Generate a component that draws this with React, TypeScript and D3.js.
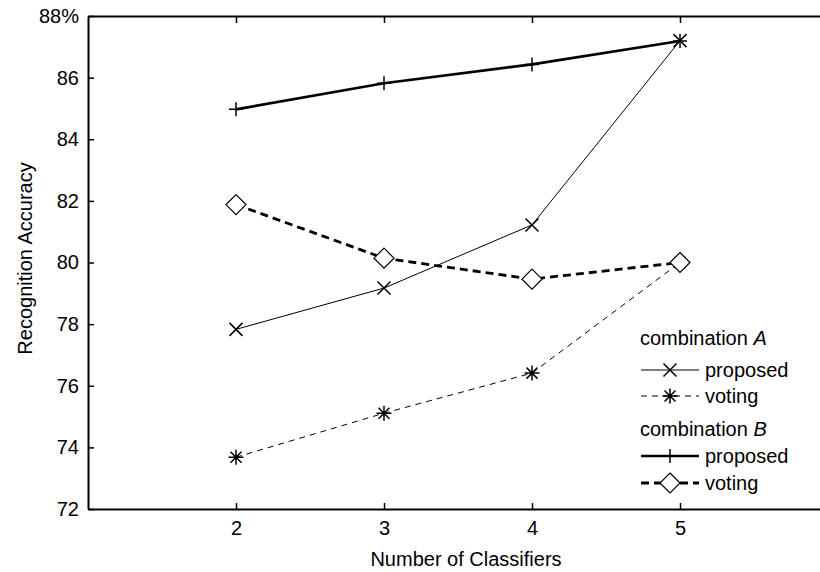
import React, { useEffect, useRef } from 'react';
import * as d3 from 'd3';

// classifiers on the x axis
const classifiers = [2, 3, 4, 5];
// recognition accuracy (%)
const aProposed = [77.83, 79.17, 81.22, 87.2];
const aVoting = [73.68, 75.11, 76.41, 80.0];
const bProposed = [84.97, 85.82, 86.43, 87.19];
const bVoting = [81.88, 80.14, 79.46, 80.0];
const yTicks = [72, 74, 76, 78, 80, 82, 84, 86, 88];

const FONT = '"Liberation Sans", Arial, Helvetica, sans-serif';

type Marker = 'x' | 'star' | 'plus' | 'diamond';

interface SeriesDef {
    values: number[];
    width: number;
    dash: string | null;
    marker: Marker;
    label: string;
}

const seriesDefs: SeriesDef[] = [
    { values: aProposed, width: 1, dash: null, marker: 'x', label: 'proposed' },
    { values: aVoting, width: 1, dash: '6,5', marker: 'star', label: 'voting' },
    { values: bProposed, width: 2.6, dash: null, marker: 'plus', label: 'proposed' },
    { values: bVoting, width: 2.8, dash: '8,5', marker: 'diamond', label: 'voting' },
];

function drawMarker(g: d3.Selection<SVGGElement, unknown, null, undefined>, kind: Marker, cx: number, cy: number) {
    const m = g.append('g').attr('transform', `translate(${cx},${cy})`)
        .attr('stroke', '#000').attr('stroke-width', 1.5).attr('fill', 'none');
    if (kind === 'x') {
        const s = 6.5;
        m.append('path').attr('d', `M${-s},${-s}L${s},${s}M${-s},${s}L${s},${-s}`);
    } else if (kind === 'plus') {
        const s = 7;
        m.append('path').attr('d', `M${-s},0L${s},0M0,${-s}L0,${s}`);
    } else if (kind === 'star') {
        const s = 7.5, d = 5.5;
        m.append('path').attr('d', `M${-s},0L${s},0M0,${-s}L0,${s}M${-d},${-d}L${d},${d}M${-d},${d}L${d},${-d}`);
    } else {
        const s = 10;
        m.append('path').attr('d', `M0,${-s}L${s},0L0,${s}L${-s},0Z`)
            .attr('fill', '#fff').attr('stroke-width', 1.2);
    }
}

const Chart: React.FC = () => {
    const svgRef = useRef<SVGSVGElement>(null);

    useEffect(() => {
        if (!svgRef.current) return;
        const svg = d3.select(svgRef.current);
        svg.selectAll('*').remove();

        const x = d3.scaleLinear().domain([1, 6]).range([88, 828]);
        const y = d3.scaleLinear().domain([72, 88]).range([509, 16]);

        // Axes (ticks point inward, like MATLAB)
        const styleAxis = (g: d3.Selection<SVGGElement, unknown, null, undefined>) => {
            g.select('.domain').attr('stroke-width', 2);
            g.selectAll('.tick line').attr('stroke-width', 1.5);
            g.selectAll('.tick text').attr('font-family', FONT).attr('font-size', 20).attr('fill', '#000');
        };

        svg.append('g')
            .attr('transform', `translate(0,${y(72)})`)
            .call(d3.axisBottom(x).tickValues(classifiers).tickSizeInner(-6).tickSizeOuter(0).tickPadding(12).tickFormat(d3.format('d')))
            .call(styleAxis);

        svg.append('g')
            .attr('transform', `translate(0,${y(88)})`)
            .call(d3.axisTop(x).tickValues(classifiers).tickSizeInner(-7).tickSizeOuter(0).tickFormat(() => ''))
            .call(styleAxis);

        svg.append('g')
            .attr('transform', `translate(${x(1)},0)`)
            .call(d3.axisLeft(y).tickValues(yTicks).tickSizeInner(-6).tickSizeOuter(0).tickPadding(9)
                .tickFormat(d => (+d === 88 ? '88%' : String(d))))
            .call(styleAxis);

        // Axis titles
        svg.append('text')
            .attr('x', 466).attr('y', 566)
            .attr('text-anchor', 'middle')
            .attr('font-family', FONT).attr('font-size', 20)
            .text('Number of Classifiers');

        svg.append('text')
            .attr('transform', `translate(32,${(y(72) + y(88)) / 2 - 4}) rotate(-90)`)
            .attr('text-anchor', 'middle')
            .attr('font-family', FONT).attr('font-size', 20)
            .text('Recognition Accuracy');

        // Series
        const line = d3.line<number>()
            .x((_, i) => x(classifiers[i]))
            .y(d => y(d));

        seriesDefs.forEach(s => {
            const g = svg.append('g');
            g.append('path')
                .attr('d', line(s.values))
                .attr('fill', 'none')
                .attr('stroke', '#000')
                .attr('stroke-width', s.width)
                .attr('stroke-dasharray', s.dash);
            s.values.forEach((v, i) => drawMarker(g, s.marker, x(classifiers[i]), y(v)));
        });

        // Legend
        const lg = svg.append('g').attr('font-family', FONT).attr('font-size', 20);
        const lx0 = 641, lx1 = 699, tx = 705;
        const header = (yy: number, letter: string) => {
            const t = lg.append('text').attr('x', 640).attr('y', yy);
            t.append('tspan').text('combination ');
            t.append('tspan').attr('font-style', 'italic').text(letter);
        };
        header(345, 'A');
        header(436, 'B');
        const rowsY = [370, 396, 456, 483];
        seriesDefs.forEach((s, i) => {
            const ry = rowsY[i];
            const g = lg.append('g');
            g.append('line')
                .attr('x1', lx0).attr('x2', lx1).attr('y1', ry).attr('y2', ry)
                .attr('stroke', '#000')
                .attr('stroke-width', s.width)
                .attr('stroke-dasharray', s.dash);
            drawMarker(g, s.marker, (lx0 + lx1) / 2, ry);
            g.append('text').attr('x', tx).attr('y', ry + 7).text(s.label);
        });
    }, []);

    return <svg ref={svgRef} width={820} height={572} style={{ display: 'block', background: '#fff' }} />;
};

export default function App() {
    return (
        <div style={{ position: 'absolute', left: 0, top: 0, width: 820, height: 572, overflow: 'hidden' }}>
            <Chart />
        </div>
    );
}
